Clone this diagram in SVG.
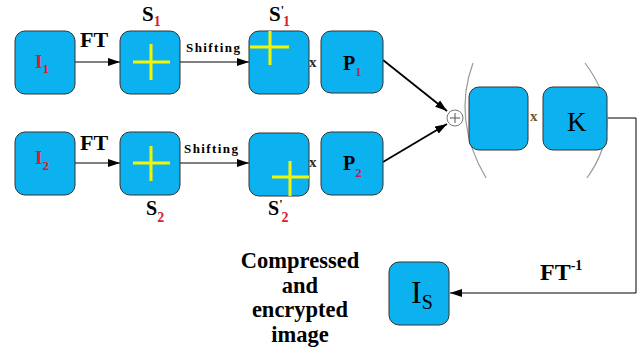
<svg xmlns="http://www.w3.org/2000/svg" width="642" height="353" viewBox="0 0 642 353">
<defs>
<style>
.box{fill:#0cb2ef;stroke:#333;stroke-width:1}
.cross{stroke:#f5f500;stroke-width:3;fill:none}
.lbl{font-family:"Liberation Serif",serif;font-weight:bold;fill:#000}
.red{fill:#d8202a}
.mag{fill:#c02060}
.ln{stroke:#000;stroke-width:1;fill:none}
.ln2{stroke:#000;stroke-width:1.8;fill:none}
.paren{stroke:#9a9a9a;stroke-width:1.2;fill:none}
.x{font-family:"Liberation Serif",serif;font-weight:bold;font-size:15px;fill:#3a2a1a}
</style>
<marker id="ah" viewBox="0 0 12 8" refX="12" refY="4" markerWidth="12" markerHeight="8" markerUnits="userSpaceOnUse" orient="auto">
<path d="M0,0 L12,4 L0,8 Z" fill="#000"/>
</marker>
</defs>
<rect width="642" height="353" fill="#fff"/>

<g id="connectors">
<line class="ln" x1="75" y1="62" x2="120" y2="62" marker-end="url(#ah)"/>
<line class="ln" x1="180" y1="62" x2="249" y2="62" marker-end="url(#ah)"/>
<line class="ln" x1="75" y1="163" x2="120" y2="163" marker-end="url(#ah)"/>
<line class="ln" x1="180" y1="163" x2="249" y2="163" marker-end="url(#ah)"/>
<line class="ln2" x1="383" y1="60" x2="447" y2="111" marker-end="url(#ah)"/>
<line class="ln2" x1="383" y1="162" x2="447" y2="124" marker-end="url(#ah)"/>
<polyline class="ln" points="608,118 636,118 636,293 450,293" marker-end="url(#ah)"/>
<text class="lbl" x="80" y="47" font-size="22">FT</text>
<text class="lbl" x="80" y="150" font-size="22">FT</text>
<text class="lbl" x="186" y="52" font-size="13" textLength="54">Shifting</text>
<text class="lbl" x="184" y="153" font-size="13" textLength="54">Shifting</text>
<text class="lbl" x="540" y="280" font-size="24">FT<tspan font-size="14" dy="-10">-1</tspan></text>
</g>

<g id="I1">
<rect class="box" x="15" y="31" width="60" height="63" rx="10"/>
<text class="lbl red" x="35" y="68" font-size="19">I<tspan font-size="13" dy="5">1</tspan></text>
</g>
<g id="S1">
<rect class="box" x="120" y="31" width="60" height="63" rx="10"/>
<path class="cross" d="M133,62 H170 M151,44 V80"/>
<text class="lbl" x="142" y="21" font-size="21">S<tspan class="red" font-size="14" dy="5">1</tspan></text>
</g>
<g id="S1p">
<rect class="box" x="249" y="31" width="60" height="63" rx="10"/>
<path class="cross" d="M250,47 H289 M270,31 V65"/>
<text class="lbl" x="269" y="21" font-size="21">S<tspan font-size="12" dy="-7">'</tspan><tspan class="red" font-size="14" dx="-1" dy="12">1</tspan></text>
</g>
<g id="P1">
<rect class="box" x="321" y="31" width="62" height="62" rx="10"/>
<text class="lbl" x="343" y="70" font-size="20">P<tspan class="mag" font-size="13" dy="6">1</tspan></text>
</g>
<text class="x" x="309" y="67">x</text>

<g id="I2">
<rect class="box" x="15" y="132" width="60" height="63" rx="10"/>
<text class="lbl red" x="35" y="164" font-size="19">I<tspan font-size="13" dy="6">2</tspan></text>
</g>
<g id="S2">
<rect class="box" x="120" y="132" width="60" height="63" rx="10"/>
<path class="cross" d="M133,163 H170 M151,146 V181"/>
<text class="lbl" x="146" y="215" font-size="20">S<tspan class="red" font-size="14" dy="7">2</tspan></text>
</g>
<g id="S2p">
<rect class="box" x="249" y="133" width="60" height="63" rx="10"/>
<path class="cross" d="M272,177 H309 M290,161 V196"/>
<text class="lbl" x="268" y="215" font-size="20">S<tspan font-size="12" dy="-7">'</tspan><tspan class="red" font-size="14" dx="-1" dy="14">2</tspan></text>
</g>
<g id="P2">
<rect class="box" x="321" y="132" width="62" height="63" rx="10"/>
<text class="lbl" x="343" y="170" font-size="20">P<tspan class="mag" font-size="13" dy="7">2</tspan></text>
</g>
<text class="x" x="309" y="167">x</text>

<g id="sum">
<circle cx="455" cy="118" r="8" fill="#fff" stroke="#777" stroke-width="1"/>
<path d="M450,118 H460 M455,113 V123" stroke="#555" stroke-width="1"/>
</g>

<g id="bracket">
<path class="paren" d="M473,63 Q452,120 486,178"/>
<path class="paren" d="M585,63 Q628,120 587,178"/>
</g>
<g id="blank">
<rect class="box" x="469" y="87" width="59" height="63" rx="10"/>
</g>
<text class="x" x="530" y="121" style="fill:#6b5a2a">x</text>
<g id="K">
<rect class="box" x="543" y="87" width="64" height="63" rx="10"/>
<text x="567" y="131" font-family="Liberation Serif,serif" font-size="27" fill="#000">K</text>
</g>

<g id="Is">
<rect class="box" x="389" y="262" width="60" height="63" rx="10"/>
<text x="411" y="303" font-family="Liberation Serif,serif" font-size="32" fill="#000">I<tspan font-size="20" dy="6">S</tspan></text>
</g>

<g id="caption">
<text class="lbl" x="300" y="268" font-size="22.5" text-anchor="middle">Compressed</text>
<text class="lbl" x="300" y="293" font-size="22.5" text-anchor="middle">and</text>
<text class="lbl" x="300" y="317" font-size="22.5" text-anchor="middle">encrypted</text>
<text class="lbl" x="300" y="342" font-size="22.5" text-anchor="middle">image</text>
</g>
</svg>
